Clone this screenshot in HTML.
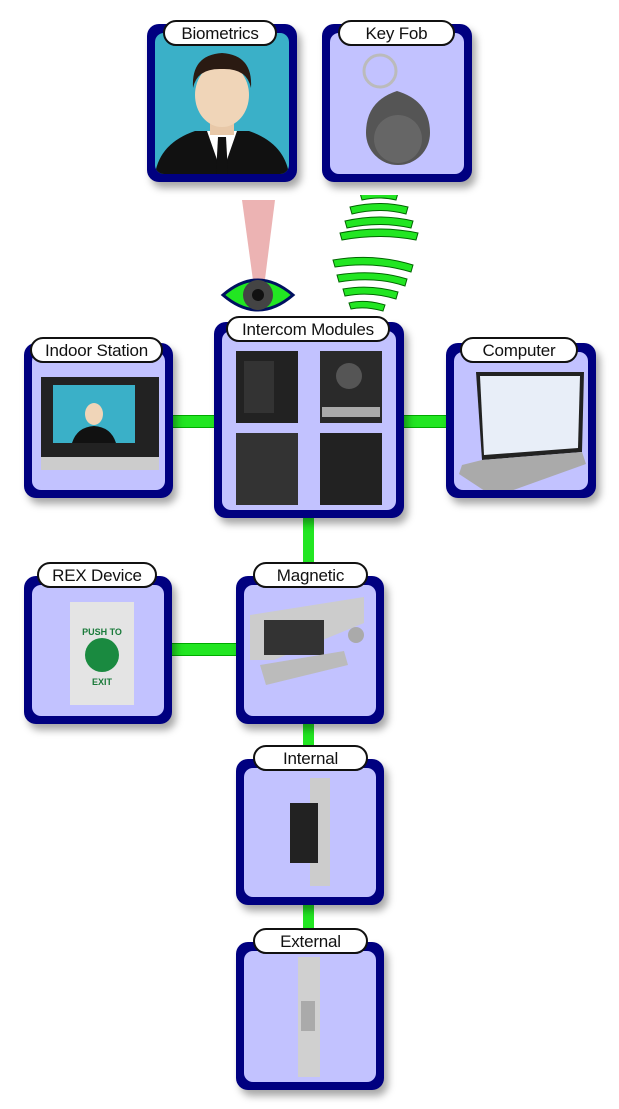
<!DOCTYPE html>
<html><head><meta charset="utf-8"><style>
body{margin:0;width:619px;height:1109px;background:#fff;position:relative;overflow:hidden;font-family:"Liberation Sans",sans-serif}
.b{position:absolute;background:#000080;border-radius:12px;box-shadow:4px 6px 8px rgba(0,0,0,.35)}
.i{position:absolute;left:8px;top:9px;right:8px;bottom:8px;background:#c2c2ff;border-radius:9px;overflow:hidden}
.l{position:absolute;background:#fff;border:2px solid #111;border-radius:13px;text-align:center;font-size:17px;color:#111;box-sizing:border-box;height:26px;line-height:23px;letter-spacing:-0.2px}
.g{position:absolute;background:#22e622;border-top:1px solid #0a0;border-bottom:1px solid #0a0}
.p{position:absolute}
</style></head><body>
<div class="g" style="left:172px;top:415px;width:44px;height:11px"></div>
<div class="g" style="left:402px;top:415px;width:46px;height:11px"></div>
<div class="g" style="left:303px;top:516px;width:11px;height:60px"></div>
<div class="g" style="left:170px;top:643px;width:68px;height:11px"></div>
<div class="g" style="left:303px;top:722px;width:11px;height:38px"></div>
<div class="g" style="left:303px;top:903px;width:11px;height:40px"></div>

<div class="b" style="left:147px;top:24px;width:150px;height:158px"><div class="i" style="background:#3ab0c8">
<svg width="134" height="141" viewBox="0 0 134 141"><path d="M0 141 Q5 110 40 98 L94 98 Q129 110 134 141Z" fill="#111"/><path d="M52 98 L67 141 L82 98Z" fill="#fff"/><path d="M63 104 L71 104 L73 141 L61 141Z" fill="#111"/><rect x="55" y="80" width="24" height="22" fill="#e8c8a8"/><ellipse cx="67" cy="62" rx="27" ry="32" fill="#f0d5b8"/><path d="M38 55 Q36 22 67 20 Q98 22 96 55 Q92 35 67 36 Q42 35 38 55Z" fill="#2a1a12"/></svg></div></div>
<div class="l" style="left:163px;top:20px;width:114px">Biometrics</div>

<div class="b" style="left:322px;top:24px;width:150px;height:158px"><div class="i">
<svg width="134" height="141"><circle cx="50" cy="38" r="16" fill="none" stroke="#bbb" stroke-width="3"/><path d="M67 58 Q100 68 100 100 A32 32 0 1 1 36 100 Q36 68 67 58Z" fill="#555"/><circle cx="68" cy="106" r="24" fill="#666"/></svg></div></div>
<div class="l" style="left:338px;top:20px;width:117px">Key Fob</div>

<svg class="p" style="left:215px;top:195px" width="220" height="125">
<path d="M27 5 L60 5 L48 100 L40 100Z" fill="#e08080" opacity=".6"/>
<path d="M8 100 Q43 70 78 100 Q43 130 8 100Z" fill="#22e622" stroke="#001060" stroke-width="3"/>
<circle cx="43" cy="100" r="15" fill="#444"/><circle cx="43" cy="100" r="6" fill="#111"/>
<g fill="#22e622" stroke="#060" stroke-width="1">
<path d="M145 -2 Q165 -6 183 -2 L181 5 Q165 1 147 5Z"/>
<path d="M135 12 Q165 5 193 12 L191 19 Q165 12 137 19Z"/>
<path d="M130 26 Q165 18 198 26 L196 33 Q165 26 132 33Z"/>
<path d="M125 38 Q165 30 203 38 L201 45 Q165 38 127 45Z"/>
<path d="M118 65 Q160 58 198 70 L196 77 Q160 66 120 72Z"/>
<path d="M122 80 Q160 74 192 84 L190 91 Q160 81 124 87Z"/>
<path d="M128 94 Q155 89 183 97 L181 104 Q155 96 130 101Z"/>
<path d="M134 108 Q150 104 170 110 L168 116 Q150 111 136 114Z"/>
</g></svg>

<div class="b" style="left:214px;top:322px;width:190px;height:196px"><div class="i">
<svg width="174" height="179"><rect x="14" y="20" width="62" height="72" fill="#222"/><rect x="22" y="30" width="30" height="52" fill="#333"/><rect x="98" y="20" width="62" height="72" fill="#2a2a2a"/><circle cx="127" cy="45" r="13" fill="#555"/><rect x="100" y="76" width="58" height="10" fill="#aaa"/><rect x="14" y="102" width="62" height="72" fill="#333"/><rect x="98" y="102" width="62" height="72" fill="#222"/></svg></div></div>
<div class="l" style="left:226px;top:316px;width:164px">Intercom Modules</div>

<div class="b" style="left:24px;top:343px;width:149px;height:155px"><div class="i">
<svg width="133" height="138"><rect x="9" y="25" width="118" height="80" fill="#222"/><rect x="21" y="33" width="82" height="58" fill="#3ab0c8"/><path d="M40 91 Q45 75 62 74 Q79 75 84 91Z" fill="#111"/><ellipse cx="62" cy="62" rx="9" ry="11" fill="#f0d5b8"/><rect x="9" y="105" width="118" height="13" fill="#ccc"/></svg></div></div>
<div class="l" style="left:30px;top:337px;width:133px">Indoor Station</div>

<div class="b" style="left:446px;top:343px;width:150px;height:155px"><div class="i">
<svg width="134" height="138"><path d="M22 20 L130 20 L128 100 L28 108Z" fill="#222"/><path d="M26 24 L126 24 L124 96 L30 103Z" fill="#e8eef8"/><path d="M8 113 L28 108 L128 100 L132 112 L40 145 L5 122Z" fill="#aaa"/></svg></div></div>
<div class="l" style="left:460px;top:337px;width:118px">Computer</div>

<div class="b" style="left:24px;top:576px;width:148px;height:148px"><div class="i">
<svg width="132" height="131"><rect x="38" y="17" width="64" height="103" fill="#e4e4e4"/><text x="70" y="50" font-size="9" font-weight="bold" fill="#1a7a3a" text-anchor="middle" font-family="Liberation Sans">PUSH TO</text><circle cx="70" cy="70" r="17" fill="#1a8a40"/><text x="70" y="100" font-size="9" font-weight="bold" fill="#1a7a3a" text-anchor="middle" font-family="Liberation Sans">EXIT</text></svg></div></div>
<div class="l" style="left:37px;top:562px;width:120px">REX Device</div>

<div class="b" style="left:236px;top:576px;width:148px;height:148px"><div class="i">
<svg width="132" height="131"><path d="M6 30 L120 12 L120 38 L30 75 L6 75Z" fill="#ccc"/><rect x="20" y="35" width="60" height="35" fill="#333"/><path d="M16 80 L100 66 L104 80 L22 100Z" fill="#bbb"/><circle cx="112" cy="50" r="8" fill="#aaa"/></svg></div></div>
<div class="l" style="left:253px;top:562px;width:115px">Magnetic</div>

<div class="b" style="left:236px;top:759px;width:148px;height:146px"><div class="i">
<svg width="132" height="129"><rect x="66" y="10" width="20" height="108" fill="#ccc"/><rect x="46" y="35" width="28" height="60" fill="#222"/></svg></div></div>
<div class="l" style="left:253px;top:745px;width:115px">Internal</div>

<div class="b" style="left:236px;top:942px;width:148px;height:148px"><div class="i">
<svg width="132" height="131"><rect x="54" y="6" width="22" height="120" fill="#d0d0d0"/><rect x="57" y="50" width="14" height="30" fill="#aaa"/></svg></div></div>
<div class="l" style="left:253px;top:928px;width:115px">External</div>
</body></html>
